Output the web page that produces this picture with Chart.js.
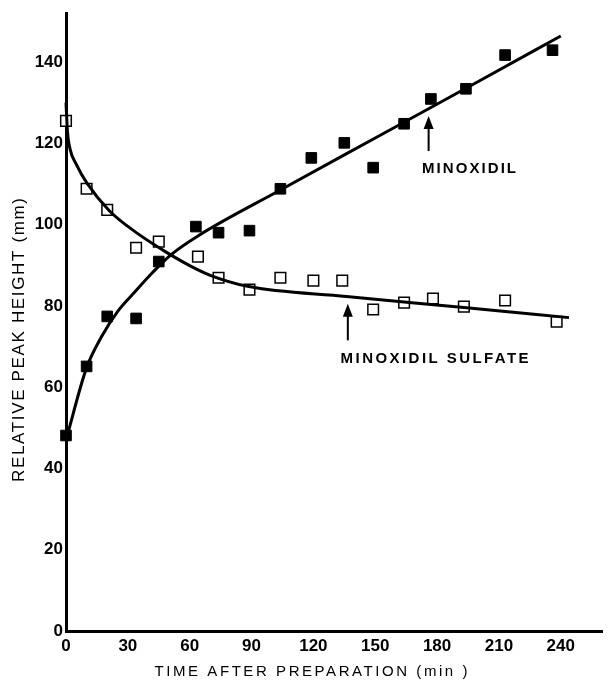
<!DOCTYPE html>
<html>
<head>
<meta charset="utf-8">
<script src="https://cdn.jsdelivr.net/npm/chart.js@4.4.1/dist/chart.umd.min.js"></script>
<style>
  html, body { margin: 0; padding: 0; background: #fff; }
  canvas { display: block; }
</style>
</head>
<body>
<canvas id="peaks" width="611" height="682"></canvas>
<script>
// values (time in min, relative peak height in mm)
const minoxidilTimes = [0, 10, 20, 34, 45, 63, 74, 89, 104, 119, 135, 149, 164, 177, 194, 213, 236];
const minoxidilHeights = [48.1, 65.1, 77.4, 76.9, 90.9, 99.5, 98.0, 98.5, 108.8, 116.4, 120.1, 114.0, 124.8, 130.9, 133.4, 141.7, 142.9];

const sulfateTimes = [0, 10, 20, 34, 45, 64, 74, 89, 104, 120, 134, 149, 164, 178, 193, 213, 238];
const sulfateHeights = [125.5, 108.8, 103.6, 94.3, 95.8, 92.1, 86.9, 84.0, 86.9, 86.2, 86.2, 79.1, 80.8, 81.8, 79.8, 81.3, 76.1];

// hand-drawn fit curves
const minoxidilCurveT = [0, 10, 17, 25, 33, 42, 51, 64, 104, 150, 200, 240];
const minoxidilCurveY = [47, 64.8, 72.2, 78.6, 83.2, 88.2, 92.6, 97.2, 108.5, 121.3, 135.2, 146.4];
const sulfateCurveT = [0, 0.7, 2, 5, 10, 21, 35, 48, 60, 70, 88, 136, 193, 244];
const sulfateCurveY = [130, 123, 118.5, 114.8, 110.3, 103.4, 97.7, 93.4, 89.9, 87.5, 84.8, 82.3, 79.6, 77.1];

const xTicks = [0, 30, 60, 90, 120, 150, 180, 210, 240];
const yTicks = [0, 20, 40, 60, 80, 100, 120, 140];

const pts = (xs, ys) => xs.map((x, i) => ({x: x, y: ys[i]}));

// labels with arrows (data coordinates)
const notes = [
    {text: 'MINOXIDIL', x: 195.5, y: 113.7, width: 94, arrowX: 175.9, arrowFrom: 118.1, arrowTo: 126.7},
    {text: 'MINOXIDIL SULFATE', x: 178.8, y: 67.0, width: 188, arrowX: 136.7, arrowFrom: 71.5, arrowTo: 80.5}
];

const FONT = '"Liberation Sans", Arial, sans-serif';

function spacedText(ctx, text, cx, cy, target, font) {
    ctx.font = font;
    ctx.letterSpacing = '0px';
    const w = ctx.measureText(text).width;
    const sp = Math.max(0, (target - w) / (text.length - 1));
    ctx.letterSpacing = sp + 'px';
    ctx.textAlign = 'left';
    ctx.textBaseline = 'middle';
    ctx.fillText(text, cx - (w + sp * (text.length - 1)) / 2, cy);
    ctx.letterSpacing = '0px';
}

const extras = {
    id: 'extras',
    afterDraw(chart) {
        const ctx = chart.ctx;
        const xs = chart.scales.x, ys = chart.scales.y;
        ctx.save();
        ctx.fillStyle = '#000';
        ctx.strokeStyle = '#000';

        notes.forEach(n => {
            spacedText(ctx, n.text, xs.getPixelForValue(n.x), ys.getPixelForValue(n.y), n.width, 'bold 15px ' + FONT);
            const ax = xs.getPixelForValue(n.arrowX);
            const y0 = ys.getPixelForValue(n.arrowFrom);
            const y1 = ys.getPixelForValue(n.arrowTo);
            ctx.lineWidth = 2;
            ctx.beginPath();
            ctx.moveTo(ax, y0);
            ctx.lineTo(ax, y1 + 8);
            ctx.stroke();
            ctx.beginPath();
            ctx.moveTo(ax, y1);
            ctx.lineTo(ax - 5, y1 + 13);
            ctx.lineTo(ax + 5, y1 + 13);
            ctx.closePath();
            ctx.fill();
        });

        // axis titles
        spacedText(ctx, 'TIME AFTER PREPARATION (min )', 311, 672, 313, '15px ' + FONT);
        ctx.save();
        ctx.translate(19, 340);
        ctx.rotate(-Math.PI / 2);
        spacedText(ctx, 'RELATIVE PEAK HEIGHT (mm)', 0, 0, 284, '17px ' + FONT);
        ctx.restore();
        ctx.restore();
    }
};

new Chart(document.getElementById('peaks').getContext('2d'), {
    type: 'scatter',
    data: {
        datasets: [
            {
                label: 'Minoxidil fit',
                data: pts(minoxidilCurveT, minoxidilCurveY),
                showLine: true,
                borderColor: '#000',
                borderWidth: 3,
                pointRadius: 0,
                cubicInterpolationMode: 'monotone',
                clip: false
            },
            {
                label: 'Minoxidil sulfate fit',
                data: pts(sulfateCurveT, sulfateCurveY),
                showLine: true,
                borderColor: '#000',
                borderWidth: 3,
                pointRadius: 0,
                cubicInterpolationMode: 'monotone',
                clip: false
            },
            {
                label: 'Minoxidil',
                data: pts(minoxidilTimes, minoxidilHeights),
                pointStyle: 'rect',
                pointRadius: 7.5,
                backgroundColor: '#000',
                borderColor: '#000',
                borderWidth: 1,
                clip: false
            },
            {
                label: 'Minoxidil sulfate',
                data: pts(sulfateTimes, sulfateHeights),
                pointStyle: 'rect',
                pointRadius: 7.5,
                backgroundColor: '#fff',
                borderColor: '#000',
                borderWidth: 1.5,
                clip: false
            }
        ]
    },
    options: {
        responsive: false,
        animation: false,
        layout: {padding: {top: 12, right: 1, left: 0, bottom: 0}},
        plugins: {
            legend: {display: false},
            tooltip: {enabled: false}
        },
        scales: {
            x: {
                type: 'linear',
                min: 0,
                max: 260,
                grid: {display: false, drawTicks: false},
                border: {display: true, color: '#000', width: 3},
                afterFit: s => { s.height = 51; },
                afterBuildTicks: s => { s.ticks = xTicks.map(v => ({value: v})); },
                ticks: {
                    color: '#000',
                    padding: 5,
                    font: {family: FONT, size: 17, weight: 'bold'}
                }
            },
            y: {
                type: 'linear',
                min: 0,
                max: 152,
                grid: {display: false, drawTicks: false},
                border: {display: true, color: '#000', width: 3},
                afterFit: s => { s.width = 66; },
                afterBuildTicks: s => { s.ticks = yTicks.map(v => ({value: v})); },
                ticks: {
                    color: '#000',
                    padding: 3,
                    font: {family: FONT, size: 17, weight: 'bold'}
                }
            }
        }
    },
    plugins: [extras]
});
</script>
</body>
</html>
